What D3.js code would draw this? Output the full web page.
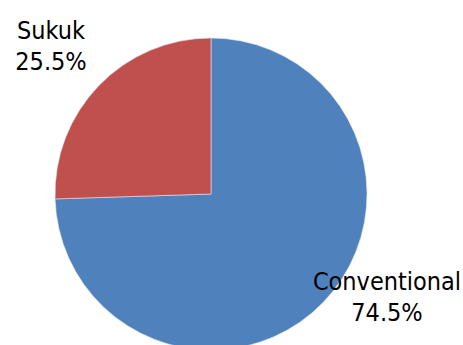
<!DOCTYPE html>
<html><head><meta charset="utf-8">
<script src="https://cdn.jsdelivr.net/npm/d3@7"></script>
<style>html,body{margin:0;padding:0;background:#fff;}svg{display:block;}</style>
</head><body>
<svg id="c" width="463" height="345"></svg>
<script>
const categories = ["Conventional", "Sukuk"];
const values = [74.5, 25.5];
const valueLabels = ["74.5%", "25.5%"];
const colors = ["#4F81BD", "#C0504D"];

const svg = d3.select("#c");
const cx = 211, cy = 194, r = 156;
const pie = d3.pie().sort(null).value(d => d.v);
const arcs = pie(categories.map((c, i) => ({c, v: values[i], i})));
const arc = d3.arc().innerRadius(0).outerRadius(r);
const g = svg.append("g").attr("transform", `translate(${cx},${cy})`);
g.selectAll("path").data(arcs).join("path")
  .attr("d", arc)
  .attr("fill", d => colors[d.data.i])
  .attr("stroke", "#dfe6f0").attr("stroke-width", 0.6);

const labelPos = [[387, 290], [51, 39]];
arcs.forEach((d, i) => {
  const t = svg.append("text")
    .attr("x", labelPos[i][0]).attr("y", labelPos[i][1])
    .attr("text-anchor", "middle")
    .attr("font-family", "DejaVu Sans Condensed, DejaVu Sans, sans-serif")
    .attr("font-stretch", "condensed")
    .attr("font-size", 25).attr("fill", "#000");
  t.append("tspan").attr("x", labelPos[i][0]).text(categories[i]);
  t.append("tspan").attr("x", labelPos[i][0]).attr("dy", 31).text(valueLabels[i]);
});
</script>
</body></html>
